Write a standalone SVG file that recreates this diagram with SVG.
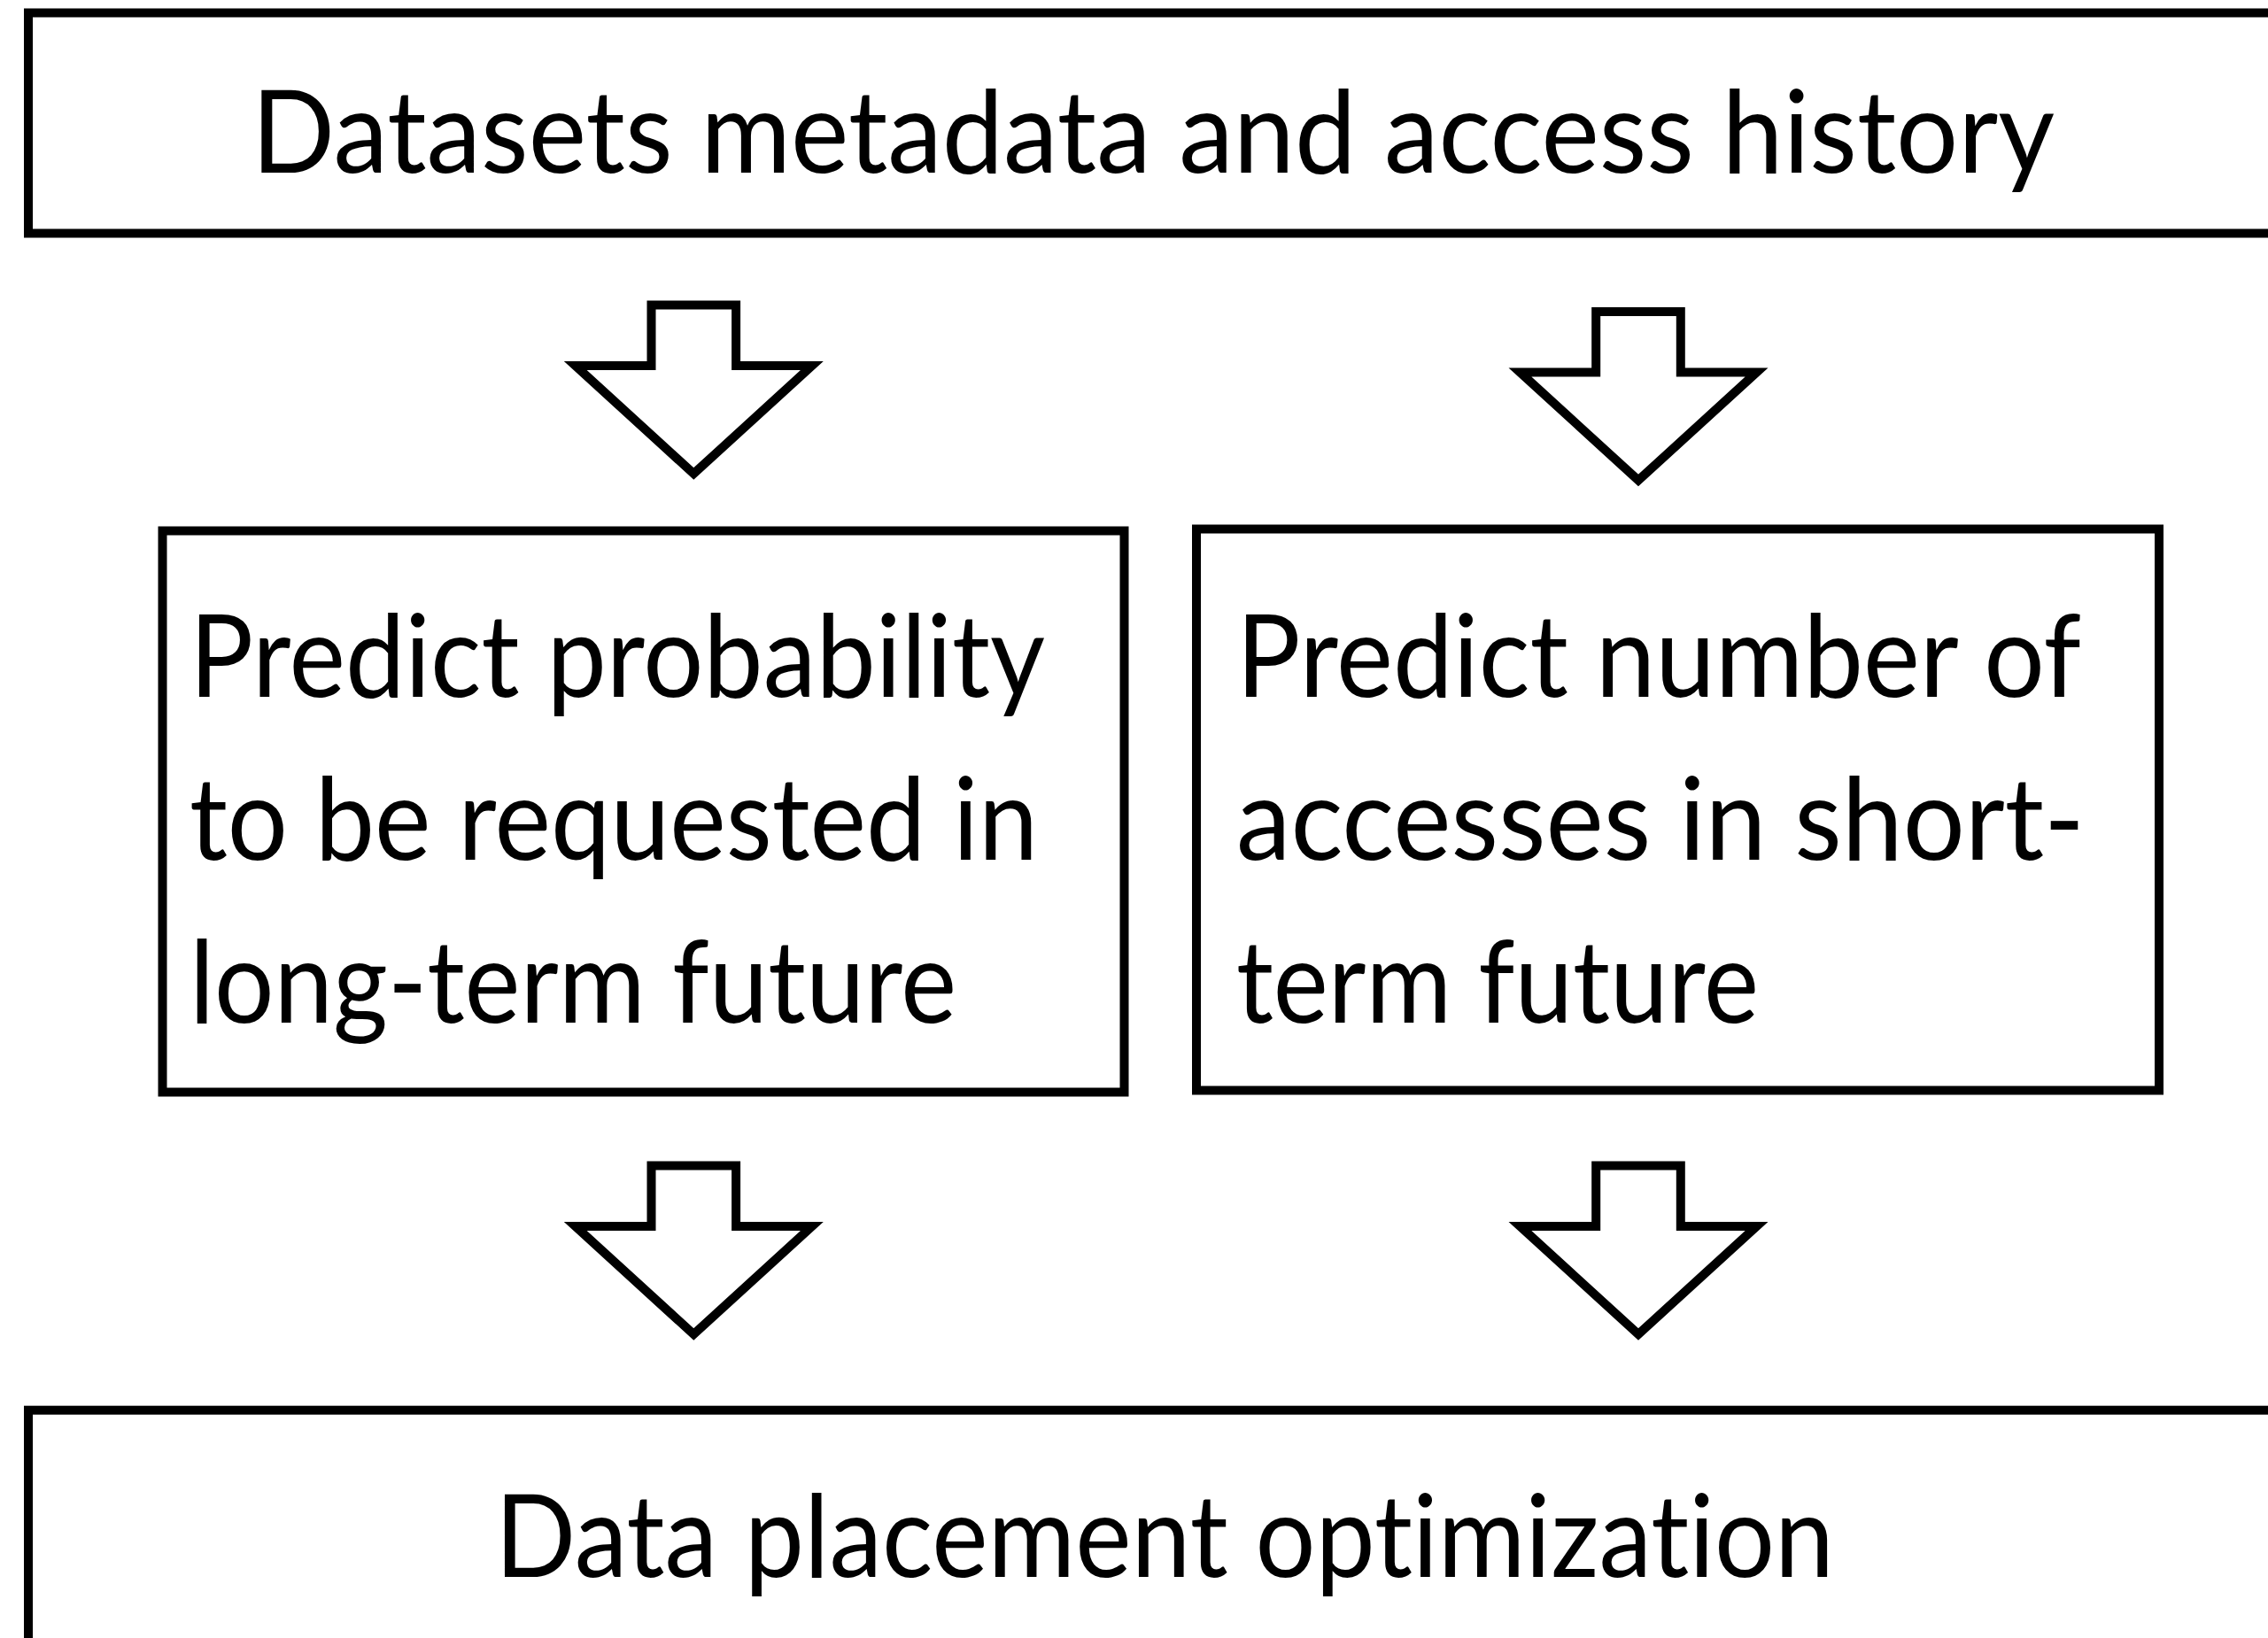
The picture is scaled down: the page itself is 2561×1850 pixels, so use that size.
<svg xmlns="http://www.w3.org/2000/svg" xmlns:xlink="http://www.w3.org/1999/xlink" width="2561" height="1850" viewBox="0 0 2561 1850">
  <style>
    .box { fill: #ffffff; stroke: #000000; stroke-width: 10; }
    .arrow { fill: #ffffff; stroke: #000000; stroke-width: 10; stroke-linejoin: miter; stroke-miterlimit: 10; }
    .lbl { font-family: Lato, "Noto Sans", "Liberation Sans", sans-serif; font-size: 130px; fill: #000000; font-variant-ligatures: none; font-feature-settings: "liga" 0, "clig" 0, "dlig" 0; }
  </style>
  <defs>
    <path id="blockArrow" d="M-47.8,0 H47.8 V68.5 H133.6 L0,190.5 L-133.6,68.5 H-47.8 Z"/>
  </defs>
  <rect x="0" y="0" width="2561" height="1850" fill="#ffffff"/>

  <g id="node-input">
    <rect class="box" x="32" y="14.5" width="2545" height="249"/>
    <text class="lbl" x="284" y="195" textLength="2036" lengthAdjust="spacingAndGlyphs">Datasets metadata and access history</text>
  </g>

  <g id="node-longterm">
    <rect class="box" x="183.5" y="599.5" width="1086" height="634"/>
    <text class="lbl" x="214" y="787" textLength="966" lengthAdjust="spacingAndGlyphs">Predict probability</text>
    <text class="lbl" x="214" y="971" textLength="958" lengthAdjust="spacingAndGlyphs">to be requested in</text>
    <text class="lbl" x="214" y="1155" textLength="866" lengthAdjust="spacingAndGlyphs">long-term future</text>
  </g>

  <g id="node-shortterm">
    <rect class="box" x="1351" y="597.5" width="1087" height="634"/>
    <text class="lbl" x="1396" y="787" textLength="954" lengthAdjust="spacingAndGlyphs">Predict number of</text>
    <text class="lbl" x="1396" y="971" textLength="958" lengthAdjust="spacingAndGlyphs">accesses in short-</text>
    <text class="lbl" x="1396" y="1155" textLength="590" lengthAdjust="spacingAndGlyphs">term future</text>
  </g>

  <g id="node-output">
    <rect class="box" x="32" y="1592.7" width="2545" height="300"/>
    <text class="lbl" x="559" y="1781" textLength="1512" lengthAdjust="spacingAndGlyphs">Data placement optimization</text>
  </g>

  <g id="connectors">
    <use xlink:href="#blockArrow" href="#blockArrow" class="arrow" transform="translate(783.3,344.5)"/>
    <use xlink:href="#blockArrow" href="#blockArrow" class="arrow" transform="translate(1850,352)"/>
    <use xlink:href="#blockArrow" href="#blockArrow" class="arrow" transform="translate(783.3,1316.5)"/>
    <use xlink:href="#blockArrow" href="#blockArrow" class="arrow" transform="translate(1850,1316.5)"/>
  </g>
</svg>
